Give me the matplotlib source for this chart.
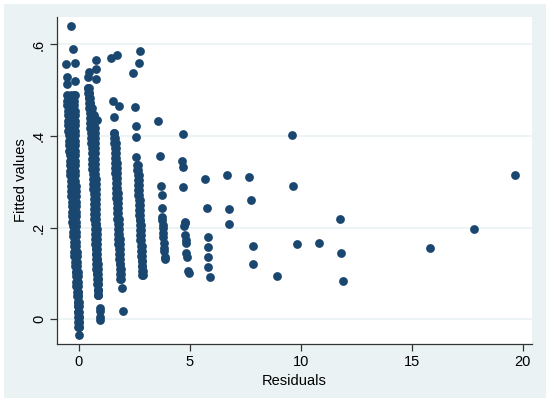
import matplotlib
matplotlib.use('Agg')
import matplotlib.pyplot as plt
import matplotlib.patches as mpatches

plt.rcParams['font.family'] = ['Liberation Sans', 'DejaVu Sans']

col0_fitted = [0.489, 0.477, 0.468, 0.455, 0.446, 0.433, 0.424, 0.411, 0.402, 0.389, 0.380, 0.367,
               0.358, 0.345, 0.336, 0.323, 0.314, 0.301, 0.292, 0.279, 0.270, 0.257, 0.248, 0.235,
               0.226, 0.213, 0.204, 0.191, 0.182, 0.169, 0.160, 0.147, 0.138, 0.125, 0.116, 0.103,
               0.094, 0.081, 0.072, 0.059, 0.050, 0.037, 0.028, 0.015, 0.006, -0.007, -0.016]
col0_left = [-0.52, -0.52, -0.51, -0.50, -0.49, -0.48, -0.47, -0.46, -0.45, -0.44, -0.43, -0.42,
             -0.41, -0.40, -0.39, -0.38, -0.37, -0.36, -0.35, -0.34, -0.33, -0.32, -0.31, -0.30,
             -0.29, -0.28, -0.27, -0.26, -0.25, -0.23, -0.22, -0.20, -0.19, -0.17, -0.16, -0.14,
             -0.13, -0.11, -0.10, -0.08, -0.07, -0.05, -0.04, -0.03, -0.02, -0.01, -0.01]
col0_mid = [-0.36, -0.36, -0.35, -0.34, -0.33, -0.33, -0.32, -0.31, -0.30, -0.30, -0.29, -0.29,
            -0.28, -0.27, -0.27, -0.27, -0.26, -0.25, -0.25, -0.24, -0.23, -0.22, -0.22, -0.21,
            -0.20, -0.20, -0.19, -0.18, -0.18, -0.16, -0.16, -0.14, -0.13, -0.12, -0.11, -0.10,
            -0.09, -0.08, -0.06, -0.05, -0.04, -0.03, -0.02, -0.01, 0.00, 0.01, 0.00]
col0_right = [-0.21, -0.20, -0.19, -0.18, -0.18, -0.17, -0.17, -0.16, -0.16, -0.16, -0.15, -0.16,
              -0.16, -0.15, -0.16, -0.16, -0.15, -0.15, -0.14, -0.14, -0.14, -0.13, -0.13, -0.13,
              -0.12, -0.12, -0.12, -0.11, -0.11, -0.10, -0.10, -0.09, -0.08, -0.07, -0.06, -0.05,
              -0.05, -0.04, -0.03, -0.02, -0.01, 0.00, 0.01, 0.01, 0.01, 0.01, 0.01]

col1_fitted = [0.505, 0.494, 0.483, 0.472, 0.461, 0.450, 0.439, 0.428, 0.417, 0.406, 0.395, 0.384,
               0.373, 0.362, 0.351, 0.340, 0.329, 0.318, 0.307, 0.296, 0.285, 0.274, 0.263, 0.252,
               0.241, 0.230, 0.219, 0.208, 0.197, 0.186, 0.175, 0.164, 0.153, 0.142, 0.131, 0.120,
               0.109, 0.098, 0.087, 0.076, 0.065, 0.054]
col1_left = [0.43, 0.44, 0.45, 0.46, 0.47, 0.49, 0.50, 0.52, 0.53, 0.55, 0.56, 0.57,
             0.58, 0.59, 0.60, 0.61, 0.62, 0.63, 0.64, 0.65, 0.66, 0.67, 0.68, 0.68,
             0.69, 0.70, 0.71, 0.72, 0.72, 0.73, 0.74, 0.75, 0.76, 0.77, 0.78, 0.79,
             0.80, 0.81, 0.83, 0.84, 0.86, 0.87]
col1_mid = [0.44, 0.45, 0.47, 0.49, 0.52, 0.55, 0.58, 0.61, 0.62, 0.63, 0.64, 0.64,
            0.65, 0.66, 0.66, 0.67, 0.68, 0.69, 0.70, 0.70, 0.71, 0.72, 0.73, 0.73,
            0.74, 0.74, 0.75, 0.76, 0.76, 0.77, 0.78, 0.78, 0.79, 0.80, 0.81, 0.82,
            0.83, 0.83, 0.85, 0.86, 0.87, 0.88]
col1_right = [0.45, 0.47, 0.50, 0.53, 0.58, 0.60, 0.66, 0.70, 0.72, 0.72, 0.72, 0.72,
              0.72, 0.73, 0.73, 0.74, 0.74, 0.75, 0.76, 0.76, 0.77, 0.77, 0.78, 0.78,
              0.79, 0.79, 0.80, 0.80, 0.81, 0.81, 0.82, 0.82, 0.83, 0.84, 0.84, 0.85,
              0.86, 0.86, 0.87, 0.88, 0.88, 0.89]

col2_fitted = [0.407, 0.396, 0.385, 0.374, 0.363, 0.352, 0.341, 0.330, 0.319, 0.308, 0.297, 0.286,
               0.275, 0.264, 0.253, 0.242, 0.231, 0.220, 0.209, 0.198, 0.187, 0.176, 0.165, 0.154,
               0.143, 0.132, 0.121, 0.110, 0.099, 0.088]
col2_left = [1.60, 1.61, 1.61, 1.62, 1.62, 1.63, 1.64, 1.64, 1.65, 1.66, 1.67, 1.68,
             1.69, 1.70, 1.71, 1.72, 1.73, 1.74, 1.75, 1.76, 1.77, 1.78, 1.79, 1.80,
             1.81, 1.83, 1.84, 1.85, 1.87, 1.88]
col2_right = [1.61, 1.64, 1.67, 1.68, 1.69, 1.70, 1.71, 1.71, 1.72, 1.73, 1.74, 1.74,
              1.75, 1.76, 1.77, 1.78, 1.79, 1.80, 1.81, 1.82, 1.83, 1.84, 1.85, 1.86,
              1.87, 1.87, 1.88, 1.89, 1.90, 1.90]

col3_fitted = [0.337, 0.326, 0.315, 0.304, 0.293, 0.282, 0.271, 0.260, 0.249, 0.238, 0.227, 0.216,
               0.205, 0.194, 0.183, 0.172, 0.161, 0.150, 0.139, 0.128, 0.117, 0.106, 0.097]
col3_left = [2.63, 2.64, 2.65, 2.66, 2.67, 2.68, 2.69, 2.70, 2.71, 2.72, 2.73, 2.74,
             2.75, 2.76, 2.77, 2.78, 2.79, 2.80, 2.81, 2.83, 2.84, 2.86, 2.87]
col3_right = [2.65, 2.68, 2.70, 2.71, 2.72, 2.72, 2.73, 2.74, 2.75, 2.76, 2.77, 2.78,
              2.79, 2.80, 2.81, 2.82, 2.83, 2.84, 2.85, 2.86, 2.87, 2.88, 2.88]

## Scattered points outside the bands
sparse_resid = [-0.36, -0.24, -0.57, -0.17, -0.54, -0.17, -0.51, -0.18, 0.01,
                0.78, 0.46, 0.76, 0.43, 0.79, 0.84, 0.70, 0.96, 0.96, 0.96, 0.95,
                1.44, 1.74, 1.55, 1.82, 1.58, 1.94, 1.98,
                2.75, 2.70, 2.45, 2.54, 2.58, 2.58, 2.60,
                3.57, 3.65, 3.69, 3.75, 3.75, 3.77, 3.77, 3.78, 3.80, 3.81, 3.81, 3.84, 3.84, 3.86, 3.87, 3.87,
                4.71, 4.64, 4.68, 4.71, 4.77, 4.80, 4.74, 4.80, 4.83, 4.83, 4.83, 4.86, 4.92, 4.95,
                5.69, 5.77, 5.81, 5.82, 5.82, 5.82, 5.90,
                6.68, 6.76, 6.77,
                7.67, 7.75, 7.84, 7.86,
                8.92, 9.61, 9.64, 9.85, 10.81, 11.77, 11.83, 11.89, 15.84, 17.79, 19.67]
sparse_fitted = [0.640, 0.591, 0.558, 0.559, 0.528, 0.520, 0.514, 0.490, -0.034,
                 0.566, 0.540, 0.547, 0.528, 0.524, 0.435, 0.446, 0.025, 0.017, 0.006, -0.001,
                 0.570, 0.576, 0.477, 0.466, 0.442, 0.068, 0.019,
                 0.585, 0.560, 0.537, 0.464, 0.422, 0.397, 0.355,
                 0.433, 0.357, 0.290, 0.272, 0.244, 0.224, 0.217, 0.206, 0.199, 0.188, 0.180, 0.167, 0.155, 0.148, 0.137, 0.132,
                 0.405, 0.346, 0.332, 0.289, 0.213, 0.210, 0.204, 0.184, 0.173, 0.166, 0.144, 0.137, 0.106, 0.102,
                 0.306, 0.242, 0.180, 0.157, 0.137, 0.115, 0.093,
                 0.315, 0.240, 0.208,
                 0.311, 0.260, 0.160, 0.120,
                 0.0945, 0.402, 0.292, 0.164, 0.167, 0.220, 0.145, 0.084, 0.156, 0.197, 0.315]

y_ticks = [0, 0.2, 0.4, 0.6]
y_tick_labels = ['0', '.2', '.4', '.6']
x_ticks = [0, 5, 10, 15, 20]

navy = '#1A476F'
bluegray = '#EAF2F3'

fig = plt.figure(figsize=(5.5, 4.03), dpi=100, facecolor='white')
## Stata-like outer graph region, drawn beneath the axes
fig.patches.append(mpatches.Rectangle((4/550, 5/403), 542/550, 394/403, transform=fig.transFigure,
                                      facecolor=bluegray, edgecolor='none', zorder=-10))
ax = fig.add_axes([57/550, 1-344/403, 475/550, 327/403])
ax.set_zorder(1)
ax.set_facecolor('white')

for xs, ys in [(col0_left, col0_fitted), (col0_mid, col0_fitted), (col0_right, col0_fitted),
               (col1_left, col1_fitted), (col1_mid, col1_fitted), (col1_right, col1_fitted),
               (col2_left, col2_fitted), (col2_right, col2_fitted),
               (col3_left, col3_fitted), (col3_right, col3_fitted),
               (sparse_resid, sparse_fitted)]:
	ax.scatter(xs, ys, s=40, color=navy, linewidths=0, zorder=3)

ax.set_xlim(-0.977, 20.42)
ax.set_ylim(-0.054, 0.660)
ax.set_yticks(y_ticks)
ax.set_yticklabels(y_tick_labels, rotation=90, va='center')
ax.set_xticks(x_ticks)
ax.grid(axis='y', color=bluegray, linewidth=1.2, zorder=1)
ax.set_axisbelow(True)

for side in ['top', 'right']:
	ax.spines[side].set_visible(False)
for side in ['left', 'bottom']:
	ax.spines[side].set_color('#333333')
	ax.spines[side].set_linewidth(0.9)
ax.tick_params(axis='both', direction='out', length=5, width=0.9, color='#333333',
               labelsize=10.5, labelcolor='black', pad=3)

ax.set_xlabel('Residuals', fontsize=10.5)
ax.set_ylabel('Fitted values', fontsize=10.5)
ax.xaxis.set_label_coords(0.5, -(374-344)/327)
ax.yaxis.set_label_coords(-(57-28)/475, 0.5)

fig.savefig('out.png', dpi=100, facecolor='white')
